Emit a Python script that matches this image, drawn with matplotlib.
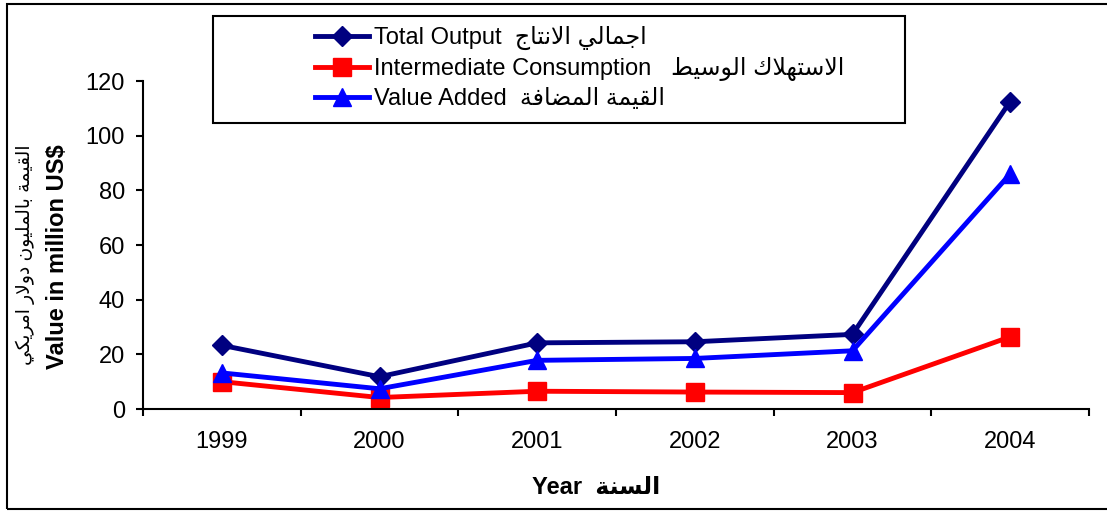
import matplotlib
matplotlib.use('Agg')
import matplotlib.pyplot as plt
from matplotlib.lines import Line2D
from matplotlib.patches import Rectangle
import numpy as np

# Data
# --------------
years = ['1999', '2000', '2001', '2002', '2003', '2004']
total_output = [23.3, 11.8, 24.2, 24.6, 27.3, 112.5]
intermediate = [10.0, 4.2, 6.5, 6.2, 6.0, 26.4]
value_added = [13.2, 7.4, 17.8, 18.5, 21.3, 86.0]

# Arabic shaping (no shaping engine in matplotlib, use presentation forms)
# --------------
AR_FORMS = {'ا': (0xFE8D, 2), 'ب': (0xFE8F, 4), 'ة': (0xFE93, 2), 'ت': (0xFE95, 4),
            'ج': (0xFE9D, 4), 'د': (0xFEA9, 2), 'ر': (0xFEAD, 2), 'س': (0xFEB1, 4),
            'ض': (0xFEBD, 4), 'ط': (0xFEC1, 4), 'ف': (0xFED1, 4), 'ق': (0xFED5, 4),
            'ك': (0xFED9, 4), 'ل': (0xFEDD, 4), 'م': (0xFEE1, 4), 'ن': (0xFEE5, 4),
            'ه': (0xFEE9, 4), 'و': (0xFEED, 2), 'ي': (0xFEF1, 4)}
LAM_ALEF = '\uFEFB'


def ar(s):
    s = s.replace('لا', LAM_ALEF)
    out = []
    for i, c in enumerate(s):
        if c == LAM_ALEF:
            base, nf = 0xFEFB, 2
        elif c in AR_FORMS:
            base, nf = AR_FORMS[c]
        else:
            out.append(c)
            continue
        prev = s[i - 1] if i > 0 else ' '
        nxt = s[i + 1] if i < len(s) - 1 else ' '
        jp = prev in AR_FORMS and AR_FORMS[prev][1] == 4
        jn = nf == 4 and (nxt in AR_FORMS or nxt == LAM_ALEF)
        if jp and jn:
            off = 3
        elif jp:
            off = 1
        elif jn:
            off = 2
        else:
            off = 0
        out.append(chr(base + off))
    return ''.join(reversed(out))


labels = ['Total Output  ' + ar('اجمالي الانتاج'),
          'Intermediate Consumption   ' + ar('الاستهلاك الوسيط'),
          'Value Added  ' + ar('القيمة المضافة')]

plt.rcParams['font.family'] = ['Liberation Sans', 'DejaVu Sans']

W, H = 1107, 511
fig = plt.figure(figsize=(W / 100, H / 100), dpi=100)
ax = fig.add_axes([143 / W, 1 - 409 / H, (1089 - 143) / W, (409 - 81) / H])

x = np.arange(len(years)) + 0.5
ax.plot(x, total_output, color='#000080', lw=3.5, marker='D', ms=10.5, mec='#000080')
ax.plot(x, intermediate, color='#FF0000', lw=3.5, marker='s', ms=13.5, mec='#FF0000')
ax.plot(x, value_added, color='#0000FF', lw=3.5, marker='^', ms=13.5, mec='#0000FF')

ax.set_xlim(0, len(years))
ax.set_ylim(0, 120)
ax.set_yticks(np.arange(0, 121, 20))
ax.set_xticks(np.arange(0, len(years) + 1))
ax.set_xticklabels([])
ax.set_xticks(x, minor=True)
ax.set_xticklabels(years, minor=True)
ax.tick_params(axis='both', which='major', direction='out', length=5, width=1.5,
               labelsize=17, pad=8)
ax.tick_params(axis='x', which='minor', length=0, labelsize=17, pad=16)
for s in ['top', 'right']:
    ax.spines[s].set_visible(False)
for s in ['left', 'bottom']:
    ax.spines[s].set_linewidth(1.5)

# Axis titles
fig.text(58 / W, 1 - 257 / H, 'Value in million US$', rotation=90, fontsize=17,
         fontweight='bold', ha='center', va='center')
fig.text(25 / W, 1 - 255 / H, ar('القيمة بالمليون دولار امريكي'), rotation=90,
         fontsize=13.5, ha='center', va='center')
fig.text(596 / W, 1 - 488 / H, 'Year  ' + ar('السنة'), fontsize=17,
         fontweight='bold', ha='center', va='center')

# Legend
handles = [Line2D([], [], color='#000080', lw=3.5, marker='D', ms=10.5),
           Line2D([], [], color='#FF0000', lw=3.5, marker='s', ms=13.5),
           Line2D([], [], color='#0000FF', lw=3.5, marker='^', ms=13.5)]
fig.legend(handles, labels, loc='upper left', bbox_to_anchor=(303 / W, 1 - 14 / H),
           frameon=False, fontsize=17, handlelength=2.3, handletextpad=0.2,
           labelspacing=0.3, borderpad=0)
fig.patches.append(Rectangle((213 / W, 1 - 123 / H), (905 - 213) / W, (123 - 16) / H,
                             transform=fig.transFigure, fill=False, ec='black', lw=1.5))

# Outer border
fig.patches.append(Rectangle((7 / W, 1 - 509 / H), 1.05, (509 - 4) / H,
                             transform=fig.transFigure, fill=False, ec='black', lw=1.5))

plt.savefig('out.png', dpi=100)
